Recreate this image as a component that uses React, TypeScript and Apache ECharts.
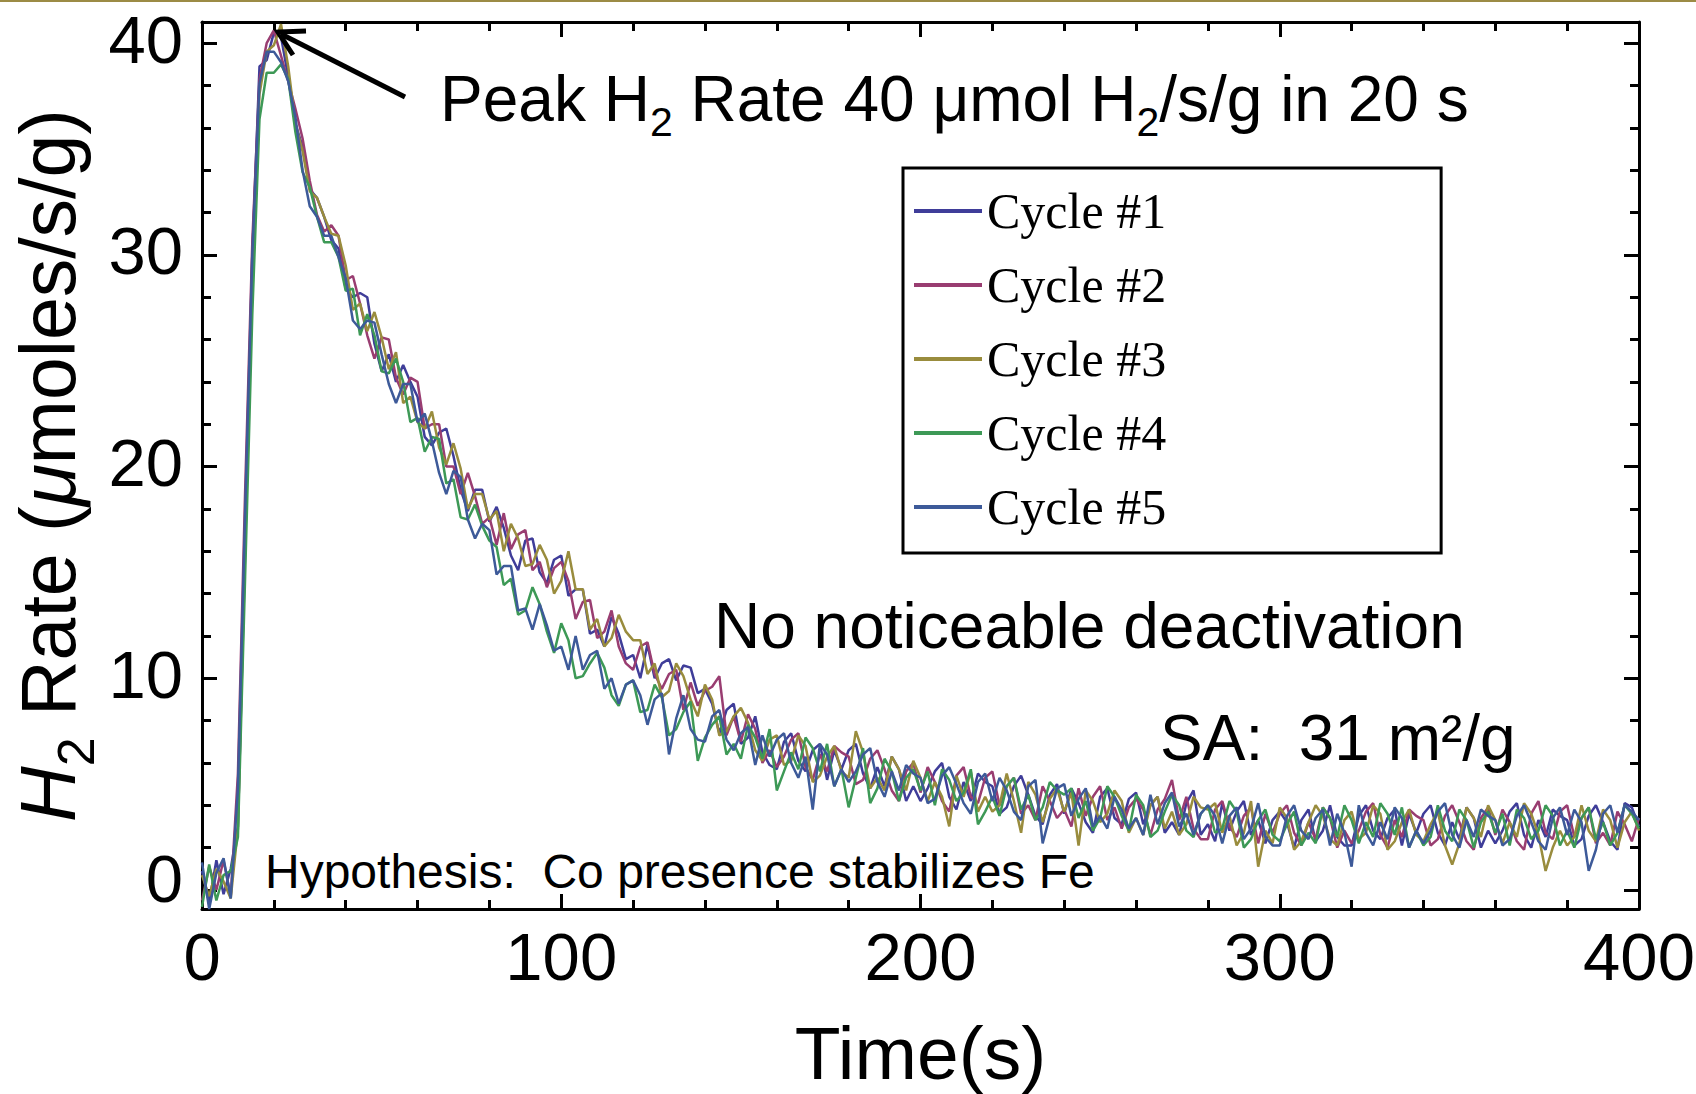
import React, { useEffect, useRef } from "react";
import * as echarts from "echarts";

// ---------- data ----------
const TIMES = [
  0, 2, 4, 6, 8, 10, 12, 14, 16, 18, 20, 22, 24, 26, 28, 30, 32, 34, 36, 38,
  40, 42, 44, 46, 48, 50, 52, 54, 56, 58, 60, 62, 64, 66, 68, 70, 72, 74, 76, 78,
  80, 82, 84, 86, 88, 90, 92, 94, 96, 98, 100, 102, 104, 106, 108, 110, 112, 114, 116, 118,
  120, 122, 124, 126, 128, 130, 132, 134, 136, 138, 140, 142, 144, 146, 148, 150, 152, 154, 156, 158,
  160, 162, 164, 166, 168, 170, 172, 174, 176, 178, 180, 182, 184, 186, 188, 190, 192, 194, 196, 198,
  200, 202, 204, 206, 208, 210, 212, 214, 216, 218, 220, 222, 224, 226, 228, 230, 232, 234, 236, 238,
  240, 242, 244, 246, 248, 250, 252, 254, 256, 258, 260, 262, 264, 266, 268, 270, 272, 274, 276, 278,
  280, 282, 284, 286, 288, 290, 292, 294, 296, 298, 300, 302, 304, 306, 308, 310, 312, 314, 316, 318,
  320, 322, 324, 326, 328, 330, 332, 334, 336, 338, 340, 342, 344, 346, 348, 350, 352, 354, 356, 358,
  360, 362, 364, 366, 368, 370, 372, 374, 376, 378, 380, 382, 384, 386, 388, 390, 392, 394, 396, 398,
  400,
];

const CYCLE1 = [
  0.9, -0.6, 1.4, -0.2, 1.0,
  3.0, 16.0, 30.0, 38.9, 39.2,
  40.5, 40.3, 38.4, 36.2, 35.1, 33.1, 32.7, 31.8, 30.7, 30.3,
  28.4, 28.0, 28.2, 28.0, 25.8, 24.5, 25.3, 24.0, 24.8, 24.0,
  23.3, 21.4, 21.0, 21.6, 21.8, 20.5, 18.9, 17.9, 18.9, 18.9,
  17.4, 18.1, 17.1, 15.8, 15.1, 16.5, 16.6, 15.0, 14.5, 15.6,
  15.8, 13.9, 14.2, 14.2, 12.1, 12.3, 11.5, 12.9, 12.1, 10.9,
  11.1, 10.0, 11.6, 10.0, 10.7, 10.9, 9.9, 10.6, 10.5, 9.3,
  9.5, 8.8, 7.4, 8.5, 8.8, 6.9, 7.2, 8.2, 6.5, 5.9,
  5.7, 7.0, 7.4, 6.1, 5.6, 6.6, 6.9, 5.2, 6.6, 5.7,
  6.6, 6.9, 5.5, 4.8, 5.8, 4.9, 6.3, 5.7, 4.2, 4.9,
  4.2, 4.8, 5.6, 6.0, 4.4, 3.8, 5.1, 4.2, 5.5, 5.1,
  4.9, 3.6, 3.9, 4.9, 5.4, 4.5, 3.5, 3.1, 4.5, 5.0,
  3.6, 4.8, 4.1, 3.2, 2.7, 4.4, 4.8, 3.4, 3.1, 4.3,
  4.6, 3.1, 4.0, 4.4, 2.7, 3.2, 2.6, 4.1, 4.7, 2.6,
  3.1, 2.3, 4.1, 2.8, 3.7, 4.2, 2.6, 3.3, 2.2, 3.3,
  3.7, 3.2, 2.0, 3.3, 3.8, 2.3, 2.8, 4.0, 2.5, 2.1,
  2.1, 3.5, 4.0, 2.8, 2.4, 3.4, 3.8, 2.1, 3.6, 2.7,
  3.6, 4.0, 2.7, 2.1, 3.2, 2.4, 3.9, 3.4, 2.0, 2.8,
  2.2, 2.8, 3.7, 4.1, 2.6, 2.0, 3.3, 2.5, 3.8, 3.5,
  3.3, 2.1, 2.4, 3.5, 4.0, 3.2, 2.3, 1.9, 4.1, 3.9,
  3.0,
];

const CYCLE2 = [
  -0.5, 1.1, 0.0, 1.4, -0.3,
  5.5, 18.8, 30.6, 38.3, 40.0,
  40.6, 39.4, 38.2, 36.9, 35.5, 33.5, 31.9, 31.1, 31.4, 30.9,
  28.8, 29.0, 27.7, 26.2, 25.1, 26.1, 26.0, 24.2, 23.4, 24.2,
  24.0, 21.8, 22.0, 22.0, 20.0, 20.0, 18.7, 19.7, 18.6, 17.3,
  17.6, 16.3, 17.8, 16.1, 16.8, 17.0, 15.1, 15.5, 14.3, 15.2,
  15.5, 14.6, 12.8, 13.6, 13.7, 11.9, 12.2, 13.2, 11.5, 10.7,
  10.4, 11.5, 11.7, 10.2, 9.5, 10.2, 10.4, 8.5, 9.8, 8.7,
  9.4, 9.6, 10.1, 7.3, 8.2, 7.0, 8.3, 7.6, 6.0, 6.6,
  5.8, 6.3, 7.1, 7.4, 5.8, 5.2, 6.4, 5.6, 6.8, 6.5,
  6.3, 5.0, 5.2, 6.2, 6.6, 5.7, 4.7, 4.2, 5.6, 6.0,
  4.6, 5.8, 5.1, 4.2, 3.7, 5.4, 5.8, 4.4, 4.1, 5.3,
  5.6, 4.0, 4.9, 5.3, 3.6, 4.0, 3.3, 4.9, 4.2, 3.4,
  3.8, 3.0, 4.8, 3.5, 4.4, 4.9, 3.3, 3.9, 2.9, 3.9,
  4.3, 3.8, 2.6, 3.8, 4.3, 5.2, 3.3, 4.4, 2.9, 2.4,
  2.4, 3.8, 4.2, 3.0, 2.5, 3.5, 3.9, 2.2, 3.6, 2.7,
  3.6, 4.0, 2.7, 2.1, 3.2, 2.4, 3.9, 3.4, 2.0, 2.8,
  2.2, 2.8, 3.7, 4.1, 2.6, 2.0, 3.3, 2.5, 3.8, 3.5,
  3.3, 2.1, 2.4, 3.5, 4.0, 3.2, 2.3, 1.9, 3.4, 3.9,
  2.6, 3.8, 3.2, 2.3, 1.9, 3.6, 4.2, 2.7, 2.4, 3.7,
  4.0, 2.5, 3.4, 3.9, 2.2, 2.7, 2.1, 3.7, 3.1, 2.3,
  3.4,
];

const CYCLE3 = [
  0.7, -0.3, 1.0, 0.4, -0.4,
  2.9, 16.6, 28.9, 37.6, 39.6,
  39.9, 40.9, 38.9, 36.2, 34.9, 33.0, 32.7, 31.8, 31.0, 30.9,
  29.5, 27.4, 27.7, 26.4, 27.3, 26.1, 24.6, 25.4, 23.0, 23.3,
  22.1, 21.8, 22.6, 20.9, 20.1, 21.1, 19.9, 18.0, 18.7, 18.7,
  17.5, 17.9, 16.0, 17.3, 16.6, 15.3, 15.4, 16.3, 15.6, 14.0,
  14.6, 16.0, 14.2, 14.2, 12.3, 12.8, 11.5, 11.9, 13.0, 12.2,
  11.8, 11.8, 10.2, 10.7, 9.1, 9.4, 10.7, 10.1, 9.0, 8.2,
  9.7, 9.0, 7.3, 7.5, 8.2, 8.6, 7.9, 6.6, 6.1, 7.1,
  7.3, 5.9, 6.1, 7.3, 6.8, 5.1, 5.4, 6.3, 6.8, 5.6,
  5.3, 7.5, 6.5, 4.8, 5.3, 4.7, 6.3, 5.7, 4.7, 6.1,
  5.3, 4.2, 5.1, 4.4, 3.0, 5.4, 4.4, 5.6, 3.7, 4.4,
  3.7, 4.0, 5.5, 4.2, 2.7, 5.1, 4.5, 3.2, 4.3, 4.8,
  3.7, 4.6, 2.1, 4.7, 4.2, 3.2, 3.6, 4.7, 4.2, 2.7,
  3.4, 2.6, 4.0, 4.4, 2.9, 3.7, 2.6, 3.1, 4.4, 3.9,
  3.8, 4.1, 2.7, 3.5, 2.1, 2.7, 4.2, 1.1, 2.8, 2.2,
  3.9, 3.4, 1.9, 2.3, 3.2, 4.0, 3.5, 2.4, 2.1, 3.3,
  3.7, 2.4, 2.7, 4.0, 3.6, 1.9, 2.3, 3.2, 3.8, 2.6,
  2.3, 3.1, 3.7, 2.1, 1.2, 2.2, 3.9, 3.4, 2.5, 4.0,
  3.3, 2.2, 3.2, 2.5, 4.1, 3.6, 2.6, 0.9, 2.0, 2.8,
  2.1, 2.5, 4.0, 2.8, 2.3, 3.8, 3.3, 2.0, 3.2, 3.7,
  2.8,
];

const CYCLE4 = [
  -0.8, 1.2, -0.5, 0.7, 0.9,
  2.5, 14.8, 27.2, 36.4, 38.6,
  38.6, 39.0, 38.3, 35.8, 33.9, 33.2, 31.8, 30.6, 30.6, 29.9,
  28.3, 28.4, 26.2, 27.2, 26.2, 24.5, 24.4, 25.1, 24.0, 22.1,
  22.3, 20.7, 21.4, 21.3, 19.2, 19.4, 17.6, 17.5, 18.2, 17.2,
  16.5, 16.2, 14.4, 14.7, 13.0, 13.2, 14.3, 13.5, 12.2, 11.2,
  12.6, 11.8, 10.0, 10.1, 10.7, 11.2, 10.5, 9.2, 8.7, 9.7,
  9.9, 8.4, 8.5, 9.7, 9.1, 7.3, 7.6, 8.4, 8.9, 6.1,
  7.2, 7.8, 8.2, 6.4, 6.9, 6.2, 7.8, 7.2, 6.2, 7.6,
  4.7, 5.6, 6.5, 5.7, 7.2, 6.7, 5.6, 6.9, 4.9, 5.7,
  3.9, 5.3, 6.7, 4.1, 4.8, 6.2, 5.6, 4.2, 5.3, 5.7,
  4.7, 5.6, 4.0, 5.7, 5.2, 4.2, 4.6, 5.7, 3.1, 3.7,
  4.4, 3.5, 4.9, 5.3, 3.8, 4.5, 3.3, 3.9, 5.1, 4.7,
  4.5, 4.8, 3.4, 4.2, 2.8, 3.4, 4.9, 4.4, 3.5, 2.8,
  4.5, 4.0, 2.5, 2.8, 3.7, 4.5, 4.0, 2.8, 2.5, 3.6,
  4.0, 2.7, 2.9, 4.2, 3.7, 2.0, 2.4, 3.3, 3.8, 2.6,
  2.3, 3.1, 3.7, 2.1, 2.7, 2.2, 3.9, 3.4, 2.5, 4.0,
  3.3, 2.2, 3.2, 2.5, 4.1, 3.6, 2.6, 3.9, 2.0, 2.8,
  2.1, 2.5, 4.0, 2.8, 2.3, 3.8, 3.3, 2.0, 3.2, 3.7,
  2.7, 3.6, 2.1, 3.8, 3.4, 2.4, 2.8, 4.0, 3.5, 2.1,
  2.8, 2.0, 3.4, 3.9, 2.4, 3.2, 2.1, 2.7, 4.0, 3.6,
  2.9,
];

const CYCLE5 = [
  1.3, -0.9, 0.8, 1.5, -0.4,
  4.8, 17.8, 30.0, 38.1, 39.6,
  39.6, 39.1, 38.2, 36.5, 34.0, 32.3, 31.8, 30.9, 30.9, 29.9,
  28.9, 26.9, 26.5, 26.9, 26.8, 25.3, 23.9, 23.0, 23.9, 23.9,
  22.1, 22.5, 21.2, 19.7, 18.7, 19.8, 19.5, 17.5, 16.6, 17.3,
  17.0, 14.9, 15.3, 15.3, 13.2, 13.3, 12.3, 13.5, 12.5, 11.3,
  11.5, 10.4, 12.0, 10.4, 11.1, 11.3, 9.5, 10.0, 8.8, 9.7,
  9.9, 9.2, 7.8, 9.0, 9.3, 6.4, 8.1, 9.2, 7.6, 7.1,
  7.0, 8.2, 8.5, 7.1, 6.6, 7.4, 7.7, 5.9, 7.3, 6.3,
  7.1, 7.4, 6.0, 5.3, 6.3, 3.8, 6.9, 6.4, 4.9, 5.7,
  5.1, 5.6, 6.4, 6.7, 5.1, 4.4, 5.6, 4.7, 5.9, 5.5,
  5.3, 4.1, 4.3, 5.4, 5.8, 5.0, 4.1, 3.6, 5.1, 5.5,
  4.2, 5.3, 4.7, 3.7, 3.3, 4.9, 5.2, 2.2, 3.5, 4.8,
  5.0, 3.5, 4.3, 4.8, 3.0, 3.5, 2.9, 4.4, 3.8, 2.9,
  3.4, 2.6, 4.5, 3.1, 4.1, 4.6, 3.0, 3.6, 2.6, 3.6,
  4.0, 3.5, 2.2, 3.5, 3.9, 2.4, 2.9, 4.1, 2.5, 2.1,
  2.1, 3.5, 4.0, 2.8, 2.4, 3.4, 3.8, 2.1, 3.6, 2.7,
  1.1, 4.0, 2.7, 2.1, 3.2, 2.4, 3.9, 3.4, 2.0, 2.8,
  2.2, 2.8, 3.7, 4.1, 2.6, 2.0, 3.3, 2.5, 3.8, 3.5,
  3.3, 2.1, 2.4, 3.5, 4.0, 3.2, 2.3, 1.9, 3.4, 3.9,
  2.6, 3.8, 3.2, 0.9, 1.9, 3.6, 4.0, 2.7, 4.0, 3.7,
  3.3,
];

const SERIES_NAMES = ["Cycle #1", "Cycle #2", "Cycle #3", "Cycle #4", "Cycle #5"];
const SERIES_VALUES = [CYCLE1, CYCLE2, CYCLE3, CYCLE4, CYCLE5];
const SERIES_COLORS = ["#3F3D99", "#993D71", "#998C3D", "#3D9956", "#3D5A99"];

const X_MIN = 0;
const X_MAX = 400;
const X_INTERVAL = 100;
const Y_MIN = -0.9;
const Y_MAX = 41.0;
const Y_MAJOR = [0, 10, 20, 30, 40];
const Y_MINOR = [2, 4, 6, 8, 12, 14, 16, 18, 22, 24, 26, 28, 32, 34, 36, 38];

const SANS = "'Liberation Sans', Arial, sans-serif";
const SERIF = "'Liberation Serif', 'Times New Roman', serif";

const tickStyle = { color: "#000", width: 3 };

function buildOption(): any {
  const series = SERIES_NAMES.map((name, k) => ({
    type: "line",
    name,
    data: TIMES.map((t, i) => [t, SERIES_VALUES[k][i]]),
    showSymbol: false,
    symbol: "none",
    clip: true,
    silent: true,
    xAxisIndex: 0,
    yAxisIndex: 0,
    lineStyle: { width: 2.5, color: SERIES_COLORS[k] },
    itemStyle: { color: SERIES_COLORS[k] },
    emphasis: { disabled: true },
  }));

  const xBase = {
    type: "value",
    min: X_MIN,
    max: X_MAX,
    interval: X_INTERVAL,
    axisLine: { show: true, onZero: false, lineStyle: tickStyle },
    axisTick: { show: true, inside: true, length: 15, lineStyle: tickStyle },
    minorTick: { show: true, splitNumber: 5, length: 9, lineStyle: tickStyle },
    splitLine: { show: false },
    minorSplitLine: { show: false },
  };

  const yBase = {
    type: "value",
    min: Y_MIN,
    max: Y_MAX,
    splitLine: { show: false },
    minorSplitLine: { show: false },
  };

  return {
    animation: false,
    backgroundColor: "#fff",
    grid: {
      left: 202,
      top: 22,
      width: 1437,
      height: 887,
      containLabel: false,
      outerBoundsMode: "none",
    },
    xAxis: [
      {
        ...xBase,
        position: "bottom",
        axisLabel: { show: true, fontSize: 67, fontFamily: SANS, color: "#000", margin: 14 },
        name: "Time(s)",
        nameLocation: "middle",
        nameGap: 106,
        nameMoveOverlap: false,
        nameTextStyle: { fontSize: 75, fontFamily: SANS, color: "#000" },
      },
      {
        ...xBase,
        position: "top",
        axisLabel: { show: false },
      },
    ],
    yAxis: [
      {
        ...yBase,
        position: "left",
        axisLine: { show: true, onZero: false, lineStyle: tickStyle },
        axisTick: { show: true, inside: true, length: 15, lineStyle: tickStyle, customValues: Y_MAJOR },
        axisLabel: {
          show: true,
          customValues: Y_MAJOR,
          fontSize: 67,
          fontFamily: SANS,
          color: "#000",
          margin: 19,
          padding: [0, 0, 8, 0],
          formatter: (v: number) => (v === 0 ? "{z|0}" : String(v)),
          rich: {
            z: { fontSize: 67, fontFamily: SANS, color: "#000", padding: [0, 0, 14, 0] },
          },
        },
        name: "{i|H}{s|2} Rate ({i|μ}moles/s/g)",
        nameLocation: "middle",
        nameGap: 100,
        nameMoveOverlap: false,
        nameTextStyle: {
          fontSize: 77,
          fontFamily: SANS,
          color: "#000",
          lineHeight: 108,
          rich: {
            i: { fontSize: 77, fontFamily: SANS, fontStyle: "italic", color: "#000", lineHeight: 108 },
            s: { fontSize: 52, fontFamily: SANS, color: "#000", verticalAlign: "bottom", lineHeight: 108 },
          },
        },
      },
      {
        ...yBase,
        position: "left",
        axisLine: { show: false, onZero: false },
        axisTick: { show: true, inside: true, length: 9, lineStyle: tickStyle, customValues: Y_MINOR },
        axisLabel: { show: false },
      },
      {
        ...yBase,
        position: "right",
        axisLine: { show: true, onZero: false, lineStyle: tickStyle },
        axisTick: { show: true, inside: true, length: 15, lineStyle: tickStyle, customValues: Y_MAJOR },
        axisLabel: { show: false },
      },
      {
        ...yBase,
        position: "right",
        axisLine: { show: false, onZero: false },
        axisTick: { show: true, inside: true, length: 9, lineStyle: tickStyle, customValues: Y_MINOR },
        axisLabel: { show: false },
      },
    ],
    legend: {
      show: true,
      data: SERIES_NAMES,
      orient: "vertical",
      left: 903,
      top: 168,
      padding: [18, 275, 21, 11],
      itemGap: 24,
      itemWidth: 68,
      itemHeight: 4,
      icon: "rect",
      selectedMode: false,
      borderColor: "#000",
      borderWidth: 3,
      borderRadius: 0,
      backgroundColor: "#fff",
      textStyle: { fontFamily: SERIF, fontSize: 50, color: "#000", lineHeight: 50 },
    },
    graphic: [
      { type: "rect", shape: { x: 0, y: 0, width: 1696, height: 2 }, style: { fill: "#9C8B45" }, z: 100 },
      {
        type: "line",
        shape: { x1: 405, y1: 97, x2: 281, y2: 34 },
        style: { stroke: "#000", lineWidth: 5 },
        z: 100,
      },
      {
        type: "polyline",
        shape: { points: [[306, 31], [278, 32], [293, 55]] },
        style: { stroke: "#000", lineWidth: 5, fill: null },
        z: 100,
      },
      {
        type: "text",
        x: 440,
        y: 99,
        z: 100,
        style: {
          text: "Peak H{s|2} Rate 40 μmol H{s|2}/s/g in 20 s",
          fontSize: 64,
          fontFamily: SANS,
          fill: "#000",
          align: "left",
          verticalAlign: "middle",
          lineHeight: 86,
          rich: {
            s: { fontSize: 41, fontFamily: SANS, fill: "#000", verticalAlign: "bottom", lineHeight: 86 },
          },
        },
      },
      {
        type: "text",
        x: 714,
        y: 626,
        z: 100,
        style: {
          text: "No noticeable deactivation",
          fontSize: 64,
          fontFamily: SANS,
          fill: "#000",
          align: "left",
          verticalAlign: "middle",
        },
      },
      {
        type: "text",
        x: 1160,
        y: 738,
        z: 100,
        style: {
          text: "SA:  31 m²/g",
          fontSize: 64,
          fontFamily: SANS,
          fill: "#000",
          align: "left",
          verticalAlign: "middle",
        },
      },
      {
        type: "text",
        x: 265,
        y: 871,
        z: 100,
        style: {
          text: "Hypothesis:  Co presence stabilizes Fe",
          fontSize: 48,
          fontFamily: SANS,
          fill: "#000",
          align: "left",
          verticalAlign: "middle",
        },
      },
    ],
    series,
  };
}

export default function App() {
  const ref = useRef<HTMLDivElement>(null);
  useEffect(() => {
    if (!ref.current) return;
    const chart = echarts.init(ref.current, null, { renderer: "svg", width: 1696, height: 1094 });
    chart.setOption(buildOption());
    return () => {
      chart.dispose();
    };
  }, []);
  return (
    <div
      ref={ref}
      style={{ position: "fixed", left: 0, top: 0, width: 1696, height: 1094, background: "#fff" }}
    />
  );
}
